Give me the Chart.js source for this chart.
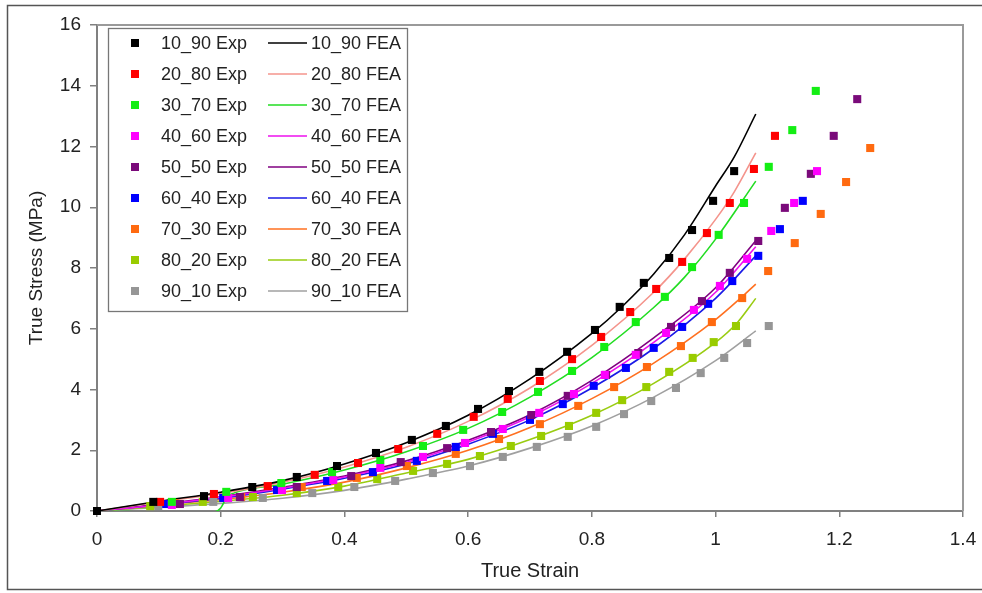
<!DOCTYPE html>
<html><head><meta charset="utf-8">
<script src="https://cdn.jsdelivr.net/npm/chart.js@4.4.1/dist/chart.umd.min.js"></script>
<style>html,body{margin:0;padding:0;background:#fff;}canvas{display:block;}</style>
</head><body>
<canvas id="c" width="982" height="593"></canvas>
<script>
// ---- series names ----
const seriesNames = ['10_90','20_80','30_70','40_60','50_50','60_40','70_30','80_20','90_10'];

// ---- experimental points [true strain, true stress MPa] ----
const exp_10_90 = [[0,0],[0.091,0.30],[0.173,0.49],[0.251,0.79],[0.323,1.12],[0.388,1.48],[0.451,1.91],[0.509,2.34],[0.564,2.80],[0.616,3.36],[0.666,3.95],[0.715,4.58],[0.760,5.24],[0.805,5.96],[0.845,6.72],[0.884,7.51],[0.925,8.33],[0.962,9.25],[0.996,10.21],[1.030,11.19]];
const exp_20_80 = [[0,0],[0.102,0.30],[0.189,0.56],[0.276,0.82],[0.352,1.19],[0.422,1.58],[0.487,2.04],[0.550,2.54],[0.609,3.10],[0.664,3.69],[0.716,4.28],[0.768,5.00],[0.815,5.73],[0.862,6.55],[0.904,7.31],[0.946,8.20],[0.986,9.15],[1.023,10.14],[1.062,11.26],[1.096,12.35]];
const exp_30_70 = [[0,0],[0.121,0.30],[0.209,0.63],[0.298,0.92],[0.380,1.28],[0.458,1.68],[0.527,2.14],[0.592,2.67],[0.655,3.26],[0.713,3.92],[0.768,4.61],[0.820,5.40],[0.871,6.22],[0.918,7.05],[0.962,8.03],[1.005,9.09],[1.046,10.14],[1.086,11.33],[1.124,12.54],[1.162,13.83]];
const exp_40_60 = [[0,0],[0.121,0.20],[0.212,0.43],[0.299,0.69],[0.382,1.02],[0.458,1.42],[0.527,1.78],[0.595,2.24],[0.656,2.70],[0.715,3.23],[0.771,3.85],[0.821,4.48],[0.871,5.14],[0.920,5.86],[0.965,6.62],[1.007,7.41],[1.051,8.30],[1.090,9.22],[1.127,10.14],[1.164,11.19]];
const exp_50_50 = [[0,0],[0.134,0.23],[0.231,0.46],[0.323,0.79],[0.411,1.15],[0.491,1.61],[0.566,2.07],[0.637,2.60],[0.702,3.16],[0.761,3.79],[0.823,4.48],[0.875,5.20],[0.928,6.06],[0.978,6.91],[1.023,7.84],[1.069,8.89],[1.112,9.98],[1.154,11.10],[1.191,12.35],[1.229,13.56]];
const exp_60_40 = [[0,0],[0.112,0.23],[0.204,0.43],[0.291,0.69],[0.372,0.99],[0.446,1.28],[0.517,1.65],[0.580,2.11],[0.640,2.54],[0.700,3.00],[0.753,3.52],[0.803,4.12],[0.855,4.71],[0.900,5.37],[0.946,6.06],[0.988,6.82],[1.027,7.57],[1.069,8.40],[1.104,9.28],[1.141,10.21]];
const exp_70_30 = [[0,0],[0.125,0.26],[0.233,0.46],[0.331,0.79],[0.420,1.09],[0.501,1.48],[0.580,1.88],[0.650,2.37],[0.716,2.86],[0.778,3.46],[0.836,4.08],[0.889,4.74],[0.944,5.43],[0.994,6.22],[1.043,7.01],[1.085,7.90],[1.128,8.82],[1.170,9.78],[1.211,10.83],[1.250,11.95]];
const exp_80_20 = [[0,0],[0.086,0.16],[0.171,0.30],[0.252,0.46],[0.323,0.59],[0.390,0.79],[0.453,1.05],[0.511,1.32],[0.566,1.55],[0.619,1.81],[0.669,2.14],[0.718,2.47],[0.763,2.80],[0.807,3.23],[0.849,3.65],[0.888,4.08],[0.925,4.58],[0.963,5.04],[0.997,5.56],[1.033,6.09]];
const exp_90_10 = [[0,0],[0.099,0.16],[0.188,0.30],[0.268,0.43],[0.348,0.59],[0.416,0.79],[0.482,0.99],[0.543,1.25],[0.603,1.48],[0.656,1.78],[0.711,2.11],[0.761,2.44],[0.807,2.77],[0.852,3.19],[0.896,3.62],[0.936,4.05],[0.976,4.54],[1.014,5.04],[1.051,5.53],[1.086,6.09]];

// ---- FEA curves [true strain, true stress MPa] ----
const fea_10_90 = [[0,0],[0.1,0.32],[0.2,0.62],[0.3,1.0],[0.4,1.55],[0.5,2.25],[0.6,3.15],[0.7,4.35],[0.8,5.85],[0.85,6.75],[0.9,7.8],[0.95,9.1],[1.0,10.7],[1.03,11.65],[1.065,13.07]];
const fea_20_80 = [[0,0],[0.1,0.3],[0.2,0.58],[0.3,0.95],[0.4,1.45],[0.5,2.1],[0.6,2.95],[0.7,4.05],[0.8,5.45],[0.9,7.2],[0.95,8.3],[1.0,9.6],[1.03,10.5],[1.065,11.79]];
const fea_30_70 = [[0,0],[0.05,-0.02],[0.1,-0.06],[0.15,-0.07],[0.19,-0.03],[0.2,0.1],[0.21,0.45],[0.22,0.58],[0.3,0.88],[0.4,1.35],[0.5,1.95],[0.6,2.72],[0.7,3.75],[0.8,5.05],[0.9,6.7],[0.95,7.7],[1.0,8.95],[1.065,10.86]];
const fea_40_60 = [[0,0],[0.1,0.2],[0.2,0.45],[0.3,0.75],[0.4,1.12],[0.5,1.6],[0.6,2.27],[0.7,3.1],[0.8,4.2],[0.9,5.55],[1.0,7.2],[1.065,8.7]];
const fea_50_50 = [[0,0],[0.1,0.22],[0.2,0.47],[0.3,0.78],[0.4,1.15],[0.5,1.65],[0.6,2.33],[0.7,3.17],[0.8,4.3],[0.9,5.7],[1.0,7.35],[1.065,8.9]];
const fea_60_40 = [[0,0],[0.1,0.2],[0.2,0.42],[0.3,0.72],[0.4,1.08],[0.5,1.55],[0.6,2.2],[0.7,3.0],[0.8,4.05],[0.9,5.35],[1.0,7.0],[1.065,8.4]];
const fea_70_30 = [[0,0],[0.1,0.2],[0.2,0.38],[0.3,0.62],[0.4,0.95],[0.5,1.42],[0.6,2.0],[0.7,2.75],[0.8,3.7],[0.9,4.87],[1.0,6.3],[1.04,7.0],[1.065,7.47]];
const fea_80_20 = [[0,0],[0.1,0.15],[0.2,0.32],[0.3,0.52],[0.4,0.82],[0.5,1.25],[0.6,1.7],[0.7,2.35],[0.8,3.15],[0.9,4.2],[1.0,5.55],[1.035,6.2],[1.065,7.0]];
const fea_90_10 = [[0,0],[0.1,0.12],[0.2,0.25],[0.3,0.42],[0.4,0.68],[0.5,1.05],[0.6,1.48],[0.7,2.07],[0.8,2.8],[0.9,3.75],[1.0,4.95],[1.065,5.93]];

// ---- tick labels ----
const xTickLabels = ['0','0.2','0.4','0.6','0.8','1','1.2','1.4'];
const yTickLabels = ['0','2','4','6','8','10','12','14','16'];

// ---- styles ----
const expColors = ['#000000','#FF0000','#14EE14','#FF00FF','#7A0A7A','#0000FF','#FF6A10','#99CC00','#969696'];
const feaColors = ['#000000','#F4948C','#22DD22','#EE11EE','#800080','#1A1AE6','#FF7020','#99CC11','#A0A0A0'];

const expSets = [exp_10_90,exp_20_80,exp_30_70,exp_40_60,exp_50_50,exp_60_40,exp_70_30,exp_80_20,exp_90_10];
const feaSets = [fea_10_90,fea_20_80,fea_30_70,fea_40_60,fea_50_50,fea_60_40,fea_70_30,fea_80_20,fea_90_10];
const toXY = arr => arr.map(p => ({x:p[0], y:p[1]}));

const datasets = [];
seriesNames.forEach((n,i) => {
  datasets.push({
    label: n + ' Exp', data: toXY(expSets[i]),
    backgroundColor: expColors[i], borderColor: expColors[i],
    pointStyle: 'rect', pointRadius: 5.7, borderWidth: 0, showLine: false, clip: false
  });
});
seriesNames.forEach((n,i) => {
  datasets.push({
    label: n + ' FEA', data: toXY(feaSets[i]),
    borderColor: feaColors[i], backgroundColor: feaColors[i],
    showLine: true, pointRadius: 0, borderWidth: 1.6, cubicInterpolationMode: 'monotone', fill: false
  });
});

const FONT = 'Arial, "Liberation Sans", sans-serif';
Chart.defaults.font.family = FONT;

const framePlugin = {
  id: 'frame',
  beforeDraw(chart) {
    const ctx = chart.ctx;
    ctx.save();
    ctx.fillStyle = '#fff';
    ctx.fillRect(0, 0, chart.width, chart.height);
    ctx.strokeStyle = '#555';
    ctx.lineWidth = 1.5;
    ctx.strokeRect(7.5, 5.5, 1000, 584);
    ctx.restore();
  },
  beforeDatasetsDraw(chart) {
    const {ctx, chartArea: a} = chart;
    ctx.save();
    ctx.strokeStyle = '#9a9a9a';
    ctx.lineWidth = 2;
    ctx.beginPath();
    ctx.moveTo(a.left, a.top);
    ctx.lineTo(a.right, a.top);
    ctx.lineTo(a.right, a.bottom);
    ctx.stroke();
    ctx.restore();
  }
};

const legendPlugin = {
  id: 'boxLegend',
  afterDraw(chart) {
    const ctx = chart.ctx;
    const a = chart.chartArea;
    ctx.save();
    const bx = a.left + 11, by = a.top + 3, bw = 299, bh = 283;
    ctx.fillStyle = '#fff';
    ctx.fillRect(bx, by, bw, bh);
    ctx.strokeStyle = '#777';
    ctx.lineWidth = 1.3;
    ctx.strokeRect(bx + 0.5, by + 0.5, bw, bh);
    ctx.font = '18px ' + FONT;
    ctx.textBaseline = 'middle';
    ctx.textAlign = 'left';
    for (let i = 0; i < 9; i++) {
      const y = by + 15 + i * 31.0;
      const e = chart.data.datasets[i], f = chart.data.datasets[i + 9];
      ctx.fillStyle = e.backgroundColor;
      ctx.fillRect(bx + 23, y - 4, 8, 8);
      ctx.fillStyle = '#222';
      ctx.fillText(e.label, bx + 53, y + 1);
      ctx.strokeStyle = f.borderColor;
      ctx.lineWidth = 1.6;
      ctx.beginPath();
      ctx.moveTo(bx + 160, y);
      ctx.lineTo(bx + 199, y);
      ctx.stroke();
      ctx.fillStyle = '#222';
      ctx.fillText(f.label, bx + 203, y + 1);
    }
    ctx.restore();
  }
};

new Chart(document.getElementById('c'), {
  type: 'scatter',
  data: { datasets },
  options: {
    responsive: false,
    animation: false,
    devicePixelRatio: 1,
    layout: { padding: { left: 0, right: 19, top: 25, bottom: 0 } },
    plugins: { legend: { display: false }, tooltip: { enabled: false } },
    events: [],
    scales: {
      x: {
        type: 'linear', min: 0, max: 1.4,
        ticks: { stepSize: 0.2, color: '#222', font: { size: 19 }, padding: 11, maxRotation: 0, autoSkip: false,
                 callback: (v, i) => xTickLabels[i] },
        grid: { drawOnChartArea: false, drawTicks: true, tickLength: 6, color: '#808080', lineWidth: 1.5 },
        border: { display: true, color: '#808080', width: 2 },
        title: { display: true, text: 'True Strain', color: '#222', font: { size: 20 }, padding: { top: 0, bottom: 10 } },
        afterFit: s => { s.height = 82; s.paddingLeft = 0; s.paddingRight = 0; }
      },
      y: {
        type: 'linear', min: 0, max: 16,
        ticks: { stepSize: 2, color: '#222', font: { size: 19 }, padding: 9, autoSkip: false,
                 callback: (v, i) => yTickLabels[i] },
        grid: { drawOnChartArea: false, drawTicks: true, tickLength: 7, color: '#808080', lineWidth: 1.5 },
        border: { display: true, color: '#808080', width: 2 },
        title: { display: true, text: 'True Stress (MPa)', color: '#222', font: { size: 19 }, padding: { top: 25, bottom: 0 } },
        afterFit: s => { s.width = 97; s.paddingTop = 0; s.paddingBottom = 0; }
      }
    }
  },
  plugins: [framePlugin, legendPlugin]
});
</script>
</body></html>
